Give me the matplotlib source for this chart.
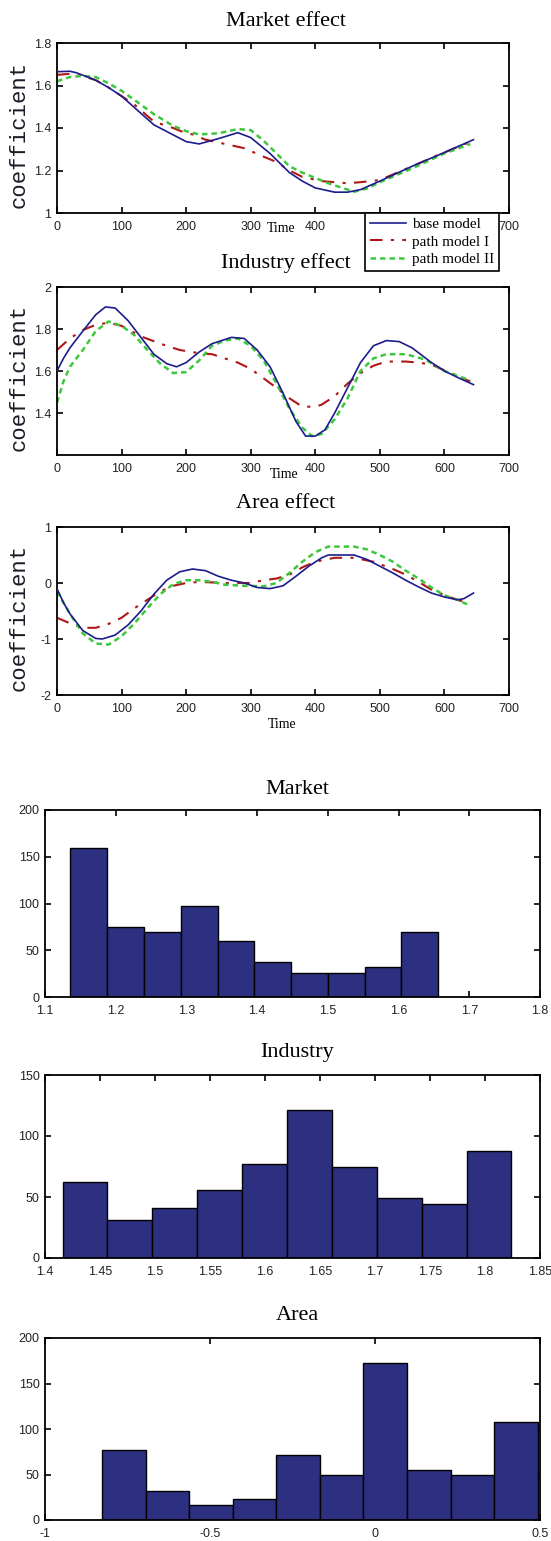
import numpy as np
import matplotlib
matplotlib.use("Agg")
import matplotlib.pyplot as plt

# ---------------- data ----------------
# Market effect
mkt_base_x = [0, 20, 30, 60, 80, 100, 150, 200, 220, 250, 280, 300, 330, 360, 380, 400, 430, 450, 470, 500, 550, 600, 645]
mkt_base_y = [1.665, 1.667, 1.66, 1.625, 1.59, 1.55, 1.415, 1.336, 1.325, 1.35, 1.378, 1.355, 1.28, 1.19, 1.15, 1.118, 1.098, 1.098, 1.11, 1.15, 1.22, 1.285, 1.345]
mkt_p1_x = [0, 20, 40, 60, 80, 100, 120, 150, 180, 200, 210, 230, 260, 290, 320, 340, 360, 380, 410, 430, 450, 470, 500, 550, 600, 640]
mkt_p1_y = [1.65, 1.655, 1.645, 1.625, 1.59, 1.55, 1.51, 1.43, 1.4, 1.375, 1.37, 1.345, 1.325, 1.305, 1.265, 1.24, 1.2, 1.17, 1.15, 1.145, 1.14, 1.145, 1.155, 1.22, 1.285, 1.335]
mkt_p2_x = [0, 20, 40, 60, 80, 100, 130, 150, 180, 200, 220, 250, 280, 300, 320, 340, 360, 380, 400, 420, 440, 460, 480, 500, 550, 600, 640]
mkt_p2_y = [1.62, 1.64, 1.645, 1.64, 1.61, 1.575, 1.51, 1.465, 1.41, 1.385, 1.37, 1.375, 1.395, 1.39, 1.34, 1.28, 1.22, 1.19, 1.165, 1.14, 1.12, 1.1, 1.115, 1.145, 1.21, 1.28, 1.325]

# Industry effect
ind_base_x = [0, 10, 20, 40, 60, 75, 90, 110, 130, 150, 170, 185, 200, 220, 240, 270, 290, 310, 330, 350, 370, 385, 400, 415, 430, 450, 470, 490, 510, 530, 550, 580, 600, 620, 645]
ind_base_y = [1.6, 1.66, 1.71, 1.79, 1.868, 1.905, 1.9, 1.84, 1.76, 1.68, 1.635, 1.62, 1.64, 1.69, 1.73, 1.76, 1.755, 1.7, 1.62, 1.495, 1.36, 1.29, 1.29, 1.32, 1.4, 1.52, 1.64, 1.72, 1.745, 1.74, 1.71, 1.64, 1.6, 1.57, 1.535]
ind_p1_x = [0, 20, 40, 60, 80, 100, 130, 160, 190, 220, 240, 260, 280, 300, 320, 340, 360, 380, 400, 410, 430, 450, 470, 490, 510, 540, 560, 580, 610, 640]
ind_p1_y = [1.7, 1.755, 1.795, 1.82, 1.83, 1.815, 1.765, 1.73, 1.7, 1.685, 1.68, 1.66, 1.64, 1.61, 1.565, 1.52, 1.47, 1.43, 1.43, 1.44, 1.48, 1.54, 1.59, 1.625, 1.645, 1.645, 1.64, 1.63, 1.59, 1.55]
ind_p2_x = [0, 10, 20, 40, 60, 80, 100, 120, 140, 160, 180, 200, 220, 240, 260, 280, 300, 320, 340, 360, 380, 395, 410, 430, 450, 470, 490, 510, 540, 570, 600, 640]
ind_p2_y = [1.45, 1.55, 1.62, 1.7, 1.79, 1.836, 1.815, 1.77, 1.7, 1.635, 1.59, 1.595, 1.65, 1.72, 1.745, 1.755, 1.72, 1.65, 1.54, 1.42, 1.33, 1.29, 1.3, 1.37, 1.47, 1.6, 1.66, 1.68, 1.68, 1.655, 1.6, 1.555]

# Area effect
area_base_x = [0, 10, 20, 40, 60, 70, 90, 110, 130, 150, 170, 190, 210, 230, 250, 270, 290, 310, 330, 350, 370, 390, 410, 420, 460, 480, 500, 520, 540, 560, 580, 600, 620, 630, 645]
area_base_y = [-0.1, -0.35, -0.55, -0.85, -0.99, -1.0, -0.93, -0.75, -0.5, -0.2, 0.05, 0.2, 0.25, 0.22, 0.12, 0.05, 0.0, -0.08, -0.1, -0.05, 0.12, 0.3, 0.45, 0.5, 0.5, 0.42, 0.3, 0.18, 0.05, -0.07, -0.18, -0.25, -0.3, -0.28, -0.18]
area_p1_x = [0, 20, 40, 60, 80, 100, 120, 140, 160, 180, 200, 220, 260, 300, 320, 340, 360, 380, 400, 430, 460, 490, 520, 540, 560, 580, 600, 620, 635]
area_p1_y = [-0.62, -0.72, -0.8, -0.8, -0.73, -0.62, -0.45, -0.3, -0.15, -0.05, 0.0, 0.02, 0.0, 0.0, 0.05, 0.08, 0.15, 0.28, 0.38, 0.45, 0.45, 0.38, 0.25, 0.15, 0.02, -0.12, -0.22, -0.3, -0.35]
area_p2_x = [0, 20, 40, 60, 80, 100, 120, 140, 160, 180, 200, 220, 240, 260, 290, 320, 340, 360, 380, 400, 420, 460, 480, 500, 520, 540, 560, 580, 600, 620, 635]
area_p2_y = [-0.15, -0.55, -0.9, -1.08, -1.1, -0.95, -0.72, -0.45, -0.2, -0.02, 0.05, 0.05, 0.02, -0.03, -0.05, -0.06, 0.0, 0.18, 0.38, 0.55, 0.65, 0.65, 0.6, 0.5, 0.38, 0.22, 0.08, -0.08, -0.22, -0.3, -0.38]

series_labels = ["base model", "path model I", "path model II"]

# Histograms (10 equal bins between first and last edge)
mkt_hist_range = (1.136, 1.656)
mkt_counts = [159, 75, 70, 97, 60, 37, 26, 26, 32, 69]
ind_hist_range = (1.416, 1.824)
ind_counts = [62, 31, 41, 56, 77, 121, 75, 49, 44, 88]
area_hist_range = (-0.826, 0.4925)
area_counts = [77, 32, 17, 23, 71, 50, 172, 55, 50, 108]

# ---------------- figure ----------------
W, H = 551, 1541
fig = plt.figure(figsize=(W / 100, H / 100), dpi=100)
fig.patch.set_facecolor("white")

SERIF = ["Liberation Serif", "DejaVu Serif"]
SANS = ["Liberation Sans", "DejaVu Sans"]
MONO = ["Liberation Mono", "DejaVu Sans Mono"]

def px_axes(left, top, right, bottom):
    return fig.add_axes([left / W, 1 - bottom / H, (right - left) / W, (bottom - top) / H])

def style(ax, xpad=6):
    for s in ax.spines.values():
        s.set_linewidth(1.3)
        s.set_color("black")
    ax.tick_params(direction="in", top=True, right=True, length=4, width=1.2,
                   labelsize=9, colors="black")
    ax.tick_params(axis="x", pad=xpad)
    ax.tick_params(axis="y", pad=4)
    for lab in ax.get_xticklabels() + ax.get_yticklabels():
        lab.set_family(SANS)
        lab.set_color("#222222")

c_base = "#1c1c8c"
c_p1 = "#b01818"
c_p2 = "#3cc83c"

xt_line = list(range(0, 701, 100))
xtl_full = [str(v) for v in xt_line]
# tick labels 500 and 600 of the top panel are hidden by the legend in the original
xtl_top = [("" if v in (500, 600) else str(v)) for v in xt_line]

line_panels = [
    ("Market effect", (57, 43, 509, 213), (1.0, 1.8), [1, 1.2, 1.4, 1.6, 1.8], ["1", "1.2", "1.4", "1.6", "1.8"],
     (mkt_base_x, mkt_base_y), (mkt_p1_x, mkt_p1_y), (mkt_p2_x, mkt_p2_y), 22, (281, 228), xtl_top),
    ("Industry effect", (57, 287, 509, 455), (1.2, 2.0), [1.4, 1.6, 1.8, 2.0], ["1.4", "1.6", "1.8", "2"],
     (ind_base_x, ind_base_y), (ind_p1_x, ind_p1_y), (ind_p2_x, ind_p2_y), 263, (284, 474), xtl_full),
    ("Area effect", (57, 527, 509, 695), (-2, 1), [-2, -1, 0, 1], ["-2", "-1", "0", "1"],
     (area_base_x, area_base_y), (area_p1_x, area_p1_y), (area_p2_x, area_p2_y), 503, (282, 724), xtl_full),
]

handles = None
for title, box, ylim, yt, ytl, b, p1, p2, ty, tpos, xtl in line_panels:
    ax = px_axes(*box)
    h0, = ax.plot(b[0], b[1], color=c_base, lw=1.2, ls="-", zorder=3)
    h1, = ax.plot(p1[0], p1[1], color=c_p1, lw=1.5, ls=(0, (6, 4, 1.5, 4)), zorder=2)
    h2, = ax.plot(p2[0], p2[1], color=c_p2, lw=1.8, ls=(0, (2.2, 1.6)), zorder=2)
    handles = [h0, h1, h2]
    ax.set_xlim(0, 700)
    ax.set_xticks(xt_line)
    ax.set_xticklabels(xtl)
    ax.set_ylim(*ylim)
    ax.set_yticks(yt)
    ax.set_yticklabels(ytl)
    style(ax, xpad=6)
    fig.text(((box[0] + box[2]) / 2 + 3) / W, 1 - ty / H, title, ha="center", va="center",
             fontsize=16, family=SERIF)
    fig.text(19 / W, 1 - ((box[1] + box[3]) / 2 + 6) / H, "coefficient", rotation=90,
             ha="center", va="center", fontsize=16, family=MONO, color="#1e1a28")
    fig.text(tpos[0] / W, 1 - tpos[1] / H, "Time", ha="center", va="center",
             fontsize=10, family=SERIF)

leg = fig.legend(handles, series_labels, loc="upper left",
                 bbox_to_anchor=(365 / W, 1 - 213 / H), borderaxespad=0,
                 frameon=True, fancybox=False, edgecolor="black", framealpha=1,
                 prop={"family": SERIF, "size": 11}, handlelength=2.4,
                 handletextpad=0.4, labelspacing=0.25, borderpad=0.3)
leg.get_frame().set_linewidth(1.2)
leg.set_zorder(10)

hist_panels = [
    ("Market", (45, 810, 540, 997), mkt_hist_range, mkt_counts, (1.1, 1.8), np.round(np.arange(1.1, 1.81, 0.1), 2),
     ["1.1", "1.2", "1.3", "1.4", "1.5", "1.6", "1.7", "1.8"], (0, 200), [0, 50, 100, 150, 200], 790),
    ("Industry", (45, 1075, 540, 1258), ind_hist_range, ind_counts, (1.4, 1.85), np.round(np.arange(1.4, 1.851, 0.05), 2),
     ["1.4", "1.45", "1.5", "1.55", "1.6", "1.65", "1.7", "1.75", "1.8", "1.85"], (0, 150), [0, 50, 100, 150], 1052),
    ("Area", (45, 1338, 540, 1520), area_hist_range, area_counts, (-1, 0.5), [-1, -0.5, 0, 0.5],
     ["-1", "-0.5", "0", "0.5"], (0, 200), [0, 50, 100, 150, 200], 1315),
]

for title, box, rng, counts, xlim, xt, xtl, ylim, yt, ty in hist_panels:
    ax = px_axes(*box)
    edges = np.linspace(rng[0], rng[1], len(counts) + 1)
    ax.bar(edges[:-1], counts, width=np.diff(edges), align="edge",
           color="#2d2f80", edgecolor="black", linewidth=1.0, zorder=2)
    ax.set_xlim(*xlim)
    ax.set_xticks(xt)
    ax.set_xticklabels(xtl)
    ax.set_ylim(*ylim)
    ax.set_yticks(yt)
    style(ax, xpad=6)
    fig.text(((box[0] + box[2]) / 2 + 5) / W, 1 - ty / H, title, ha="center", va="center",
             fontsize=16, family=SERIF)

fig.savefig("out.png", dpi=100, facecolor="white")
